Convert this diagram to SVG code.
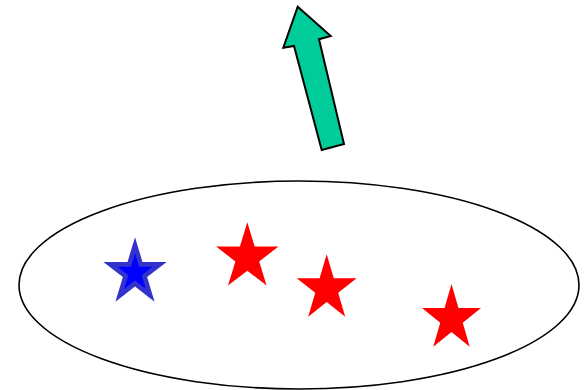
<svg xmlns="http://www.w3.org/2000/svg" xmlns:xlink="http://www.w3.org/1999/xlink" width="586" height="390" viewBox="0 0 586 390">
<defs>
<polygon id="star" points="0,-1 0.2245,-0.309 0.9511,-0.309 0.3633,0.118 0.5878,0.809 0,0.382 -0.5878,0.809 -0.3633,0.118 -0.9511,-0.309 -0.2245,-0.309"/>
</defs>
<style>
.red{fill:#ff0000}
.blueout{fill:#3333cc}
.bluein{fill:#0000ff}
</style>
<rect width="586" height="390" fill="#ffffff"/>
<ellipse cx="299" cy="285" rx="280" ry="104" fill="none" stroke="#000" stroke-width="1.6"/>
<polygon points="297.7,6.7 330.7,36 319,39.3 344,144 321.7,150 294,46 283.3,47.7" fill="#00cc99" stroke="#000" stroke-width="2" stroke-linejoin="miter"/>
<g id="blue-star">
<use xlink:href="#star" class="blueout" transform="translate(135,272.9) scale(33.3,35.6)"/>
<use xlink:href="#star" class="bluein" transform="translate(135,272.9) scale(18.5,19.8)"/>
</g>
<g id="red-star-1"><use xlink:href="#star" class="red" transform="translate(247.3,257.3) scale(32.8,35)"/></g>
<g id="red-star-2"><use xlink:href="#star" class="red" transform="translate(326.7,288.8) scale(31.5,34.5)"/></g>
<g id="red-star-3"><use xlink:href="#star" class="red" transform="translate(451.5,318.7) scale(31,34.7)"/></g>
</svg>
